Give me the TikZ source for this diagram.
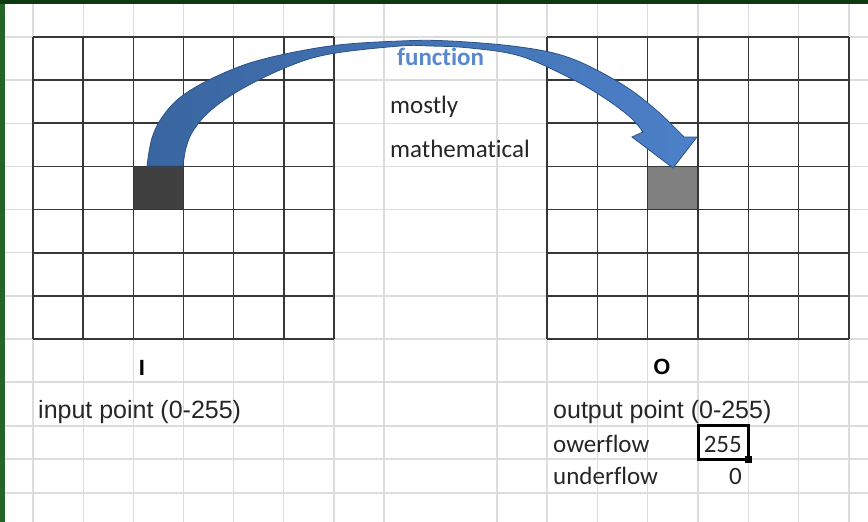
\documentclass[tikz,border=0pt]{standalone}
\usepackage{fontspec}
\setmainfont{Liberation Sans}
\newfontfamily\calib[Ligatures={NoCommon}]{Carlito}
\definecolor{gridgrey}{RGB}{220,220,220}
\definecolor{cellline}{RGB}{55,55,55}
\definecolor{greenL}{RGB}{36,100,40}
\definecolor{greenT}{RGB}{14,58,18}
\definecolor{arrowL}{RGB}{58,102,160}
\definecolor{arrowR}{RGB}{76,128,200}
\definecolor{arrowD}{RGB}{45,82,135}
\definecolor{funcblue}{RGB}{88,137,208}
\definecolor{txt}{RGB}{38,38,38}
\definecolor{darkcell}{RGB}{64,64,64}
\definecolor{midcell}{RGB}{128,128,128}
\tikzset{
  sheetline/.style={draw=gridgrey, line width=1.3pt},
  blackline/.style={draw=cellline, line width=1.6pt},
  arial/.style={inner sep=0pt, text=txt, font=\fontsize{25}{29}\selectfont},
  calibri/.style={inner sep=0pt, text=txt, font=\calib\fontsize{25}{29}\selectfont},
  bigletter/.style={inner sep=0pt, text=black, font=\bfseries\fontsize{22}{25}\selectfont},
  arrowshape/.style={draw=arrowD, line width=0.8pt, left color=arrowL, right color=arrowR}
}
\begin{document}
\begin{tikzpicture}[x=1pt,y=-1pt]
\useasboundingbox (0,0) rectangle (868,522);
\fill[white] (0,0) rectangle (868,522);
% spreadsheet grid
\foreach \x in {33,83.2,133.3,183.5,233.7,283.8,334,384,497,547,597.3,647.7,698,748.3,798.7,849}
  \draw[sheetline] (\x,0) -- (\x,522);
\foreach \y in {37,80.1,123.3,166.4,209.6,252.7,295.9,339,382,426,459,493}
  \draw[sheetline] (0,\y) -- (868,\y);
% highlighted cells
\fill[darkcell] (133.3,166.4) rectangle (183.5,209.6);
\fill[midcell] (647.7,166.4) rectangle (698,209.6);
% input grid
\foreach \i in {0,...,6} {
  \draw[blackline] ({33+\i*50.167},37) -- ({33+\i*50.167},339);
  \draw[blackline] (33,{37+\i*43.143}) -- (334,{37+\i*43.143});
}
\draw[blackline] (33,339) -- (334,339);
% output grid
\foreach \i in {0,...,6} {
  \draw[blackline] ({547+\i*50.333},37) -- ({547+\i*50.333},339);
  \draw[blackline] (547,{37+\i*43.143}) -- (849,{37+\i*43.143});
}
\draw[blackline] (547,339) -- (849,339);
% green window border
\fill[greenL] (0,0) rectangle (5,522);
\fill[greenT] (0,0) rectangle (868,3.5);
% curved arrow
\path[arrowshape] plot[smooth, tension=0.6] coordinates {(147,166) (152,138) (163,116) (182,96) (215,77) (260,60) (330,46) (400,41) (450,41) (520,47) (570,58) (620,83) (655,109) (684,137)}
  -- (697,137) -- (673,168) -- (632,137)
  -- plot[smooth, tension=0.6] coordinates {(643,132) (630,117) (603,97) (570,78) (520,56) (470,48) (430,46) (400,46) (330,54) (287,67) (240,90) (210,111) (193,131) (186,148) (183,166)}
  -- cycle;
% texts
\node[calibri, text=funcblue, font=\calib\bfseries\fontsize{25}{29}\selectfont, anchor=base west] (func) at (397,65) {function};
\node[calibri, anchor=base west] (mostly) at (390,113) {mostly};
\node[calibri, anchor=base west] (math) at (390,157) {mathematical};
\node[bigletter, anchor=base] (I) at (142,375) {I};
\node[bigletter, anchor=base] (O) at (662,374) {O};
\node[arial, anchor=base west] (inp) at (38,418) {input point (0-255)};
\node[arial, anchor=base west] (outp) at (553,418) {output point (0-255)};
\node[calibri, anchor=base west] (ow) at (553,452) {owerflow};
\node[calibri, anchor=base west] (un) at (553,484) {underflow};
\node[calibri, anchor=base east] (v255) at (742,452) {255};
\node[calibri, anchor=base east] (v0) at (742,484) {0};
% selected cell
\draw[black, line width=3pt] (698,425.5) rectangle (748,459);
\fill[black] (745,456) rectangle (752,463);
\end{tikzpicture}
\end{document}
